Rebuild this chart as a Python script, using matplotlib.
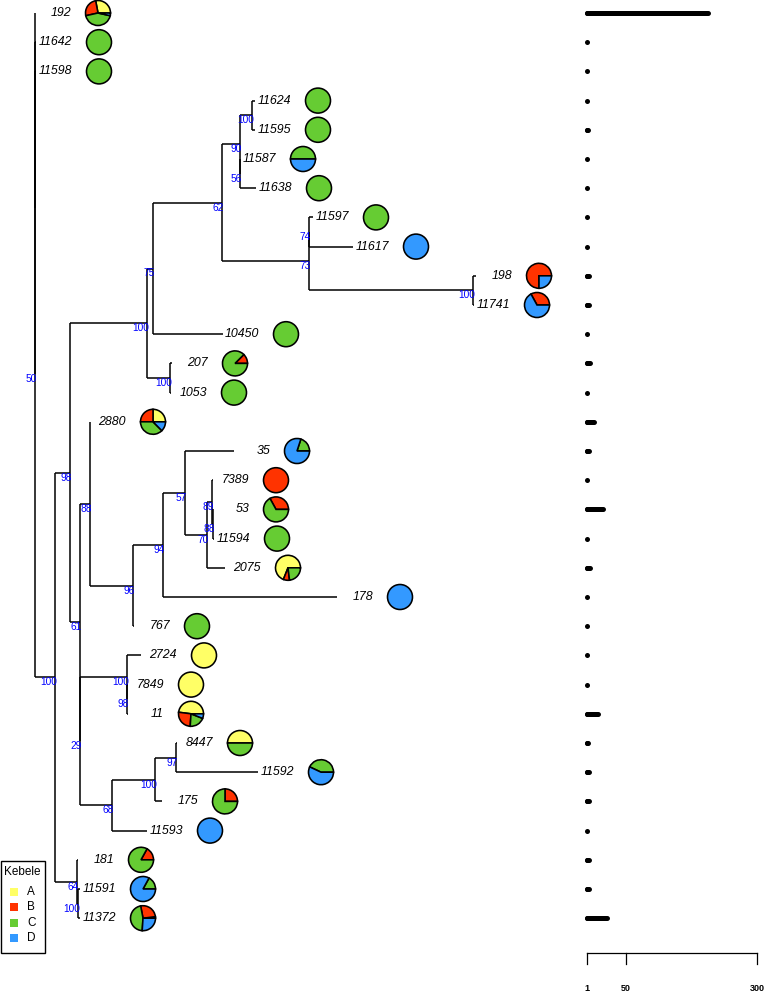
import numpy as np
import matplotlib
matplotlib.use('Agg')
import matplotlib.pyplot as plt
import matplotlib.transforms as mtransforms
from matplotlib.patches import Wedge, Rectangle

plt.rcParams['font.family'] = ['Liberation Sans', 'DejaVu Sans']

# ---- tips, listed top to bottom ----
tip_names = ['192', '11642', '11598', '11624', '11595', '11587', '11638', '11597',
             '11617', '198', '11741', '10450', '207', '1053', '2880', '35',
             '7389', '53', '11594', '2075', '178', '767', '2724', '7849',
             '11', '8447', '11592', '175', '11593', '181', '11591', '11372']
tip_depth = [0.00, 0.01, 0.01, 2.20, 2.20, 2.05, 2.21, 2.78,
             3.18, 4.41, 4.39, 1.88, 1.37, 1.36, 0.55, 1.99,
             1.78, 1.78, 1.79, 1.90, 3.02, 0.99, 1.06, 0.93,
             0.93, 1.42, 2.23, 1.27, 1.12, 0.43, 0.45, 0.45]
tip_parent = ['R', 'A', 'B', 'N12', 'N12', 'N10b', 'N10b', 'N13',
              'N13', 'N14', 'N14', 'N7', 'N8', 'N8', 'N15', 'N22',
              'N24', 'N25', 'N25', 'N23', 'N21', 'N20', 'N17', 'N19',
              'N19', 'N27', 'N27', 'N26', 'N18', 'N3', 'N4', 'N4']

# ---- internal nodes ----
node_names = ['R', 'A', 'B', 'N1', 'N2', 'N5', 'N7', 'N9', 'N10a', 'N12', 'N10b',
              'N11', 'N13', 'N14', 'N8', 'N6', 'N15', 'N20', 'N21', 'N22', 'N23',
              'N24', 'N25', 'N16', 'N17', 'N19', 'N18', 'N26', 'N27', 'N3', 'N4']
node_depth = [0.00, 0.00, 0.00, 0.20, 0.35, 1.12, 1.18, 1.87, 2.05, 2.17, 2.05,
              2.74, 2.74, 4.38, 1.35, 0.45, 0.55, 0.98, 1.28, 1.50, 1.72,
              1.77, 1.78, 0.45, 0.92, 0.92, 0.77, 1.20, 1.41, 0.42, 0.43]
node_parent = [None, 'R', 'A', 'B', 'N1', 'N2', 'N5', 'N7', 'N9', 'N10a', 'N10a',
               'N9', 'N11', 'N11', 'N5', 'N2', 'N6', 'N15', 'N20', 'N21', 'N22',
               'N23', 'N24', 'N6', 'N16', 'N17', 'N16', 'N18', 'N26', 'N1', 'N3']
node_support = ['', '', '50', '100', '98', '100', '75', '62', '90', '100', '56',
                '73', '74', '100', '100', '61', '88', '96', '94', '57', '70',
                '89', '88', '29', '100', '98', '68', '100', '97', '64', '100']

# ---- kebele composition per tip (fractions) ----
kebele = ['A', 'B', 'C', 'D']
kebele_colors = ['#FFFF66', '#FF3300', '#66CC33', '#3399FF']
frac_A = [0.28, 0, 0, 0, 0, 0, 0, 0, 0, 0, 0, 0, 0, 0, 0.25, 0,
          0, 0, 0, 0.69, 0, 0, 1, 1, 0.48, 0.5, 0, 0, 0, 0, 0, 0.02]
frac_B = [0.255, 0, 0, 0, 0, 0, 0, 0, 0, 0.75, 0.33, 0, 0.125, 0, 0.25, 0,
          1, 0.33, 0, 0.08, 0, 0, 0, 0, 0.26, 0, 0, 0.25, 0, 0.17, 0, 0.26]
frac_C = [0.43, 1, 1, 1, 1, 0.5, 1, 1, 0, 0, 0, 1, 0.875, 1, 0.375, 0.2,
          0, 0.67, 1, 0.23, 0, 1, 0, 0, 0.2, 0.5, 0.43, 0.75, 0, 0.83, 0.17, 0.46]
frac_D = [0.035, 0, 0, 0, 0, 0.5, 0, 0, 1, 0.25, 0.67, 0, 0, 0, 0.125, 0.8,
          0, 0, 0, 0, 1, 0, 0, 0, 0.06, 0, 0.57, 0, 1, 0, 0.83, 0.26]

# ---- number of isolates per tip ----
n_isolates = [207, 1, 1, 1, 2, 1, 1, 1, 1, 4, 3, 1, 5, 1, 10, 3,
              1, 21, 1, 5, 1, 1, 1, 1, 15, 2, 3, 4, 1, 3, 3, 26]
scale_ticks = [1, 50, 300]

# pixel geometry of the layout
W, H = 765, 993
ROW, TOP, X0, PXU = 29.2, 13, 35, 100.0

fig = plt.figure(figsize=(W / 100, H / 100), dpi=100)
ax = fig.add_axes([0, 0, 1, 1])
ax.set_xlim(-X0 / PXU, (W - X0) / PXU)
ax.set_ylim((H - TOP) / ROW, -TOP / ROW)
ax.axis('off')

depth = dict(zip(tip_names, tip_depth))
depth.update(zip(node_names, node_depth))
parent = dict(zip(tip_names, tip_parent))
parent.update(zip(node_names, node_parent))
children = {n: [] for n in node_names}
for c, p in parent.items():
    if p is not None:
        children[p].append(c)

ypos = {n: i for i, n in enumerate(tip_names)}


def get_y(n):
    if n not in ypos:
        ypos[n] = np.mean([get_y(c) for c in children[n]])
    return ypos[n]


for n in node_names:
    get_y(n)

# tree edges
for n in node_names:
    ys = [ypos[c] for c in children[n]]
    ax.plot([depth[n], depth[n]], [min(ys), max(ys)], color='black', lw=1.1,
            solid_capstyle='butt')
for c, p in parent.items():
    if p is None:
        continue
    ax.plot([depth[p], depth[c]], [ypos[c], ypos[c]], color='black', lw=1.1,
            solid_capstyle='butt')

# bootstrap support
for n, s in zip(node_names, node_support):
    if s:
        ax.annotate(s, (depth[n], ypos[n]), xytext=(2, -5), textcoords='offset pixels',
                    ha='right', va='center', color='#0000FF', fontsize=7.3)

# tip labels and pies
fracs = np.array([frac_A, frac_B, frac_C, frac_D], dtype=float).T
for i, name in enumerate(tip_names):
    ax.annotate(name, (depth[name], i), xytext=(36, 0), textcoords='offset pixels',
                ha='right', va='center', fontsize=8.9, style='italic')
    tr = (mtransforms.Affine2D().scale(12.5).translate(63, 0)
          + mtransforms.ScaledTranslation(depth[name], i, ax.transData))
    f = fracs[i] / fracs[i].sum()
    start = 0.0
    for fk, col in zip(f, kebele_colors):
        if fk <= 0:
            continue
        end = min(start + fk * 360, 360)
        ax.add_patch(Wedge((0, 0), 1, start, end, facecolor=col, edgecolor='black',
                           lw=1.15, transform=tr, clip_on=False))
        start = end

# legend box (pixel coordinates, origin top-left)
px = mtransforms.Affine2D().scale(1, -1).translate(0, H)
fig.patches.append(Rectangle((0.5, 861), 44, 92, transform=px, facecolor='white',
                             edgecolor='black', lw=1.0))
fig.text(22, 872, 'Kebele', transform=px, ha='center', va='center', fontsize=8.5)
for k, (lab, col) in enumerate(zip(kebele, kebele_colors)):
    yk = 892 + k * 15.3
    fig.patches.append(Rectangle((9.5, yk - 4), 8, 8, transform=px, facecolor=col,
                                 edgecolor='none'))
    fig.text(27, yk, lab, transform=px, ha='left', va='center', fontsize=8.5)

# isolate count bars
def fwd(v):
    return np.interp(v, [1, 50, 300], [0, 39, 170])


def inv(p):
    return np.interp(p, [0, 39, 170], [1, 50, 300])


bx = fig.add_axes([587 / W, 0, 170 / W, 1])
bx.set_xscale('function', functions=(fwd, inv))
bx.set_xlim(1, 300)
bx.set_ylim(ax.get_ylim())
bx.axis('off')
for i, v in enumerate(n_isolates):
    bx.plot([1, v], [i, i], color='black', lw=3.6, solid_capstyle='round', clip_on=False)
    bx.plot([1], [i], 'o', color='black', ms=3.6, mew=0, clip_on=False)

y_scale = (953 - TOP) / ROW
y_tick = (964 - TOP) / ROW
y_lab = (988 - TOP) / ROW
bx.plot([1, 300], [y_scale, y_scale], color='black', lw=0.9, clip_on=False)
for t in scale_ticks:
    bx.plot([t, t], [y_scale, y_tick], color='black', lw=0.9, clip_on=False)
    bx.text(t, y_lab, str(t), ha='center', va='center', fontsize=6.5, fontweight='bold')

fig.savefig('out.png', dpi=100)
